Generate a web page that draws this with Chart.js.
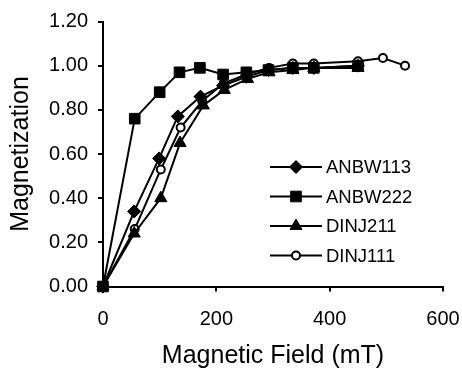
<!DOCTYPE html>
<html>
<head>
<meta charset="utf-8">
<script src="https://cdn.jsdelivr.net/npm/chart.js@4/dist/chart.umd.min.js"></script>
<style>
  html, body { margin: 0; padding: 0; background: #fff; }
  #wrap { width: 462px; height: 371px; }
</style>
</head>
<body>
<div id="wrap"><canvas id="c" width="462" height="371"></canvas></div>
<script>
// ---- data ----
const seriesNames = ['ANBW113', 'ANBW222', 'DINJ211', 'DINJ111'];

const fieldANBW113 = [0, 55, 99, 132, 172, 212, 253, 292, 335, 372, 450];
const magANBW113   = [0, 0.34, 0.58, 0.77, 0.86, 0.91, 0.95, 0.98, 0.99, 0.99, 1.00];

const fieldANBW222 = [0, 56, 100, 135, 171, 212, 253, 292, 335, 372, 450];
const magANBW222   = [0, 0.76, 0.88, 0.97, 0.99, 0.96, 0.97, 0.98, 0.99, 0.99, 1.00];

const fieldDINJ211 = [0, 55, 102, 136, 177, 214, 255, 293, 335, 372, 450];
const magDINJ211   = [0, 0.24, 0.40, 0.65, 0.82, 0.89, 0.94, 0.97, 0.98, 0.99, 0.99];

const fieldDINJ111 = [0, 56, 102, 137, 175, 213, 253, 293, 335, 372, 450, 494, 533];
const magDINJ111   = [0, 0.26, 0.53, 0.72, 0.84, 0.92, 0.96, 0.99, 1.01, 1.01, 1.02, 1.035, 1.00];

const xTicks = [0, 200, 400, 600];
const yTicks = [0, 0.2, 0.4, 0.6, 0.8, 1.0, 1.2];

const toPoints = (xs, ys) => xs.map((x, i) => ({ x: x, y: ys[i] }));

const FONT = '"Liberation Sans", Arial, sans-serif';

function makeDataset(label, xs, ys, style, radius, fill, bw) {
  return {
    label: label,
    data: toPoints(xs, ys),
    borderColor: '#000',
    borderWidth: 2,
    pointStyle: style,
    pointRadius: radius,
    pointHoverRadius: radius,
    pointBackgroundColor: fill,
    pointBorderColor: '#000',
    pointBorderWidth: bw,
    tension: 0,
    clip: false
  };
}

const datasets = [
  makeDataset(seriesNames[0], fieldANBW113, magANBW113, 'rectRot', 6.5, '#000', 1),
  makeDataset(seriesNames[1], fieldANBW222, magANBW222, 'rect', 7.5, '#000', 1),
  makeDataset(seriesNames[2], fieldDINJ211, magDINJ211, 'triangle', 7, '#000', 1),
  makeDataset(seriesNames[3], fieldDINJ111, magDINJ111, 'circle', 4, '#fff', 2)
];

// legend drawn inside the plot area
const insideLegend = {
  id: 'insideLegend',
  afterDatasetsDraw(chart, args, opts) {
    const ctx = chart.ctx;
    chart.data.datasets.forEach((ds, i) => {
      const y = opts.top + i * opts.gap;
      ctx.save();
      ctx.strokeStyle = ds.borderColor;
      ctx.lineWidth = ds.borderWidth;
      ctx.beginPath();
      ctx.moveTo(opts.x0, y);
      ctx.lineTo(opts.x1, y);
      ctx.stroke();
      ctx.fillStyle = ds.pointBackgroundColor;
      ctx.strokeStyle = ds.pointBorderColor;
      ctx.lineWidth = ds.pointBorderWidth;
      Chart.helpers.drawPoint(ctx, {
        pointStyle: ds.pointStyle,
        radius: ds.pointRadius,
        rotation: 0,
        borderWidth: ds.pointBorderWidth
      }, (opts.x0 + opts.x1) / 2, y);
      ctx.fillStyle = '#000';
      ctx.font = opts.fontSize + 'px ' + FONT;
      ctx.textBaseline = 'middle';
      ctx.textAlign = 'left';
      ctx.fillText(ds.label, opts.textX, y + 1);
      ctx.restore();
    });
  }
};

new Chart(document.getElementById('c'), {
  type: 'line',
  data: { datasets: datasets },
  plugins: [insideLegend],
  options: {
    responsive: false,
    animation: false,
    devicePixelRatio: 1,
    layout: { padding: { top: 21.5, right: 19, bottom: 0, left: 0 } },
    plugins: {
      legend: { display: false },
      tooltip: { enabled: false },
      insideLegend: { x0: 270, x1: 322, textX: 326, top: 167, gap: 29.5, fontSize: 18.5 }
    },
    scales: {
      x: {
        type: 'linear',
        min: xTicks[0],
        max: xTicks[xTicks.length - 1],
        afterBuildTicks: s => { s.ticks = xTicks.map(v => ({ value: v })); },
        ticks: { color: '#000', font: { family: FONT, size: 20 }, padding: 16, maxRotation: 0 },
        grid: { drawOnChartArea: false, drawTicks: true, tickLength: 5, color: '#000', lineWidth: 2 },
        border: { display: true, color: '#000', width: 2 },
        title: { display: true, text: 'Magnetic Field (mT)', color: '#000', font: { family: FONT, size: 25 }, padding: { top: 0, bottom: 0 } },
        afterFit: s => { s.height = 84.5; s.paddingRight = 0; s.paddingLeft = 0; }
      },
      y: {
        type: 'linear',
        min: yTicks[0],
        max: yTicks[yTicks.length - 1],
        afterBuildTicks: s => { s.ticks = yTicks.map(v => ({ value: v })); },
        ticks: { color: '#000', font: { family: FONT, size: 20 }, padding: 10, callback: v => Number(v).toFixed(2) },
        grid: { drawOnChartArea: false, drawTicks: true, tickLength: 5, color: '#000', lineWidth: 2 },
        border: { display: true, color: '#000', width: 2 },
        title: { display: true, text: 'Magnetization', color: '#000', font: { family: FONT, size: 25 }, padding: { top: 6, bottom: 0 } },
        afterFit: s => { s.width = 103; s.paddingTop = 0; s.paddingBottom = 0; }
      }
    }
  }
});
</script>
</body>
</html>
